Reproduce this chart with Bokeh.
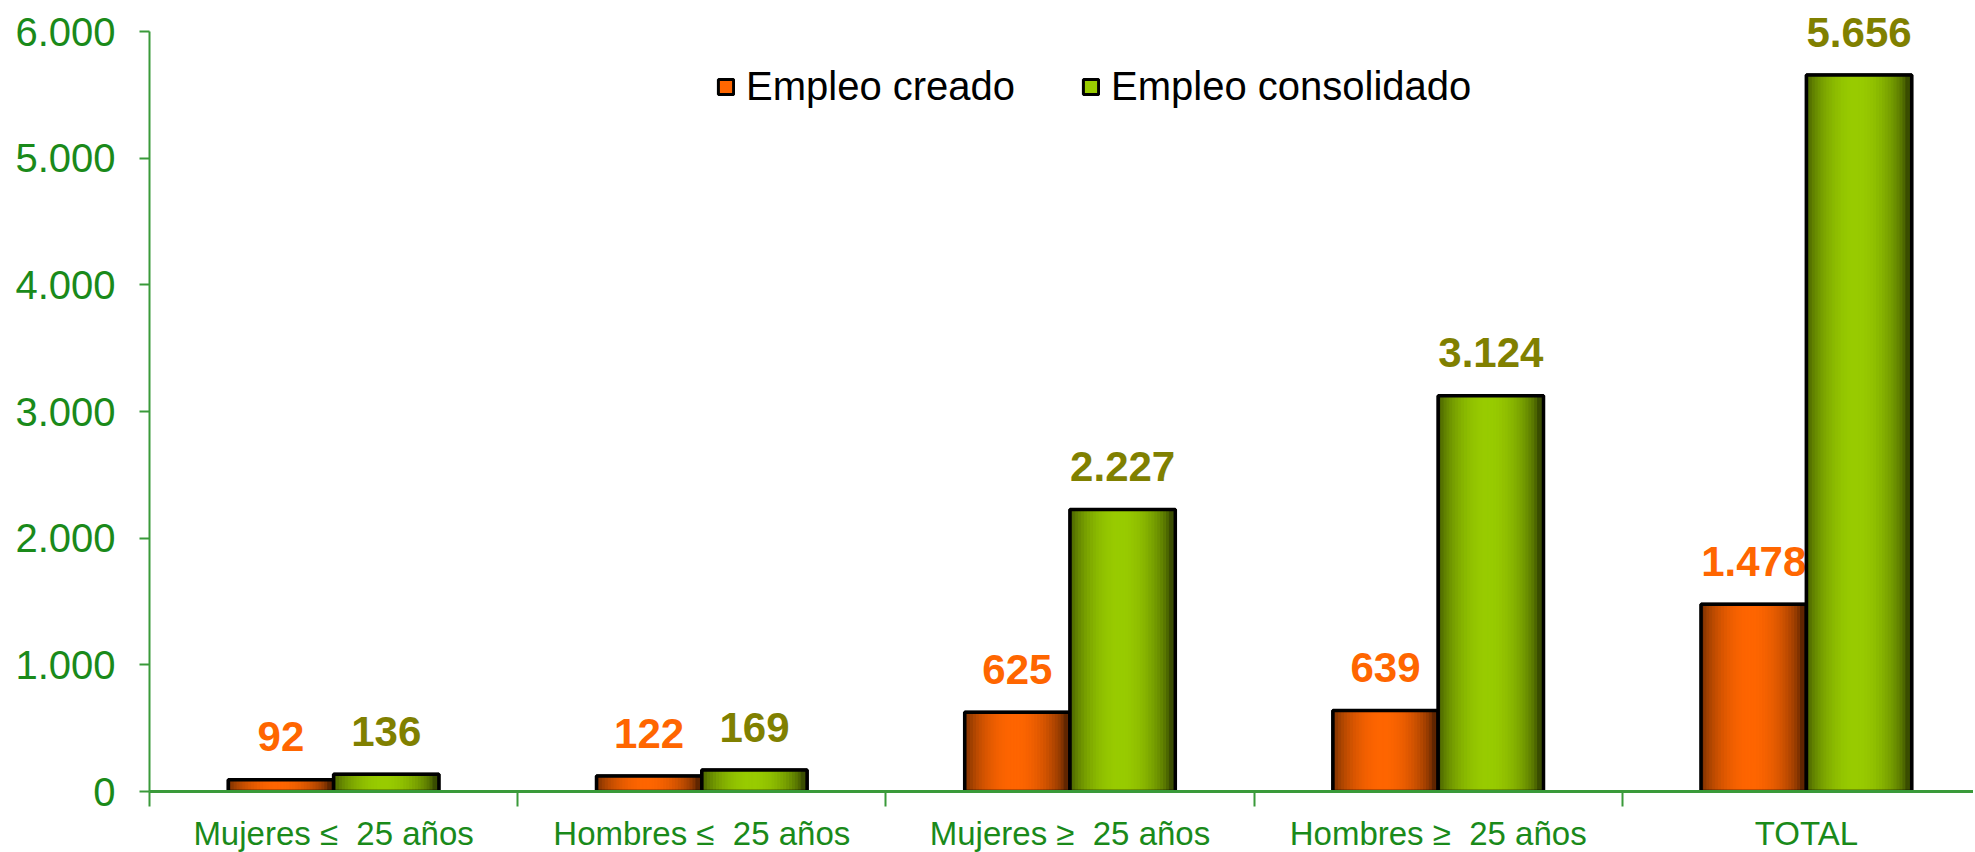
import numpy as np
from bokeh.plotting import figure
from bokeh.models import Range1d, FixedTicker, ColumnDataSource, Legend, LegendItem
from bokeh.core.properties import value
from bokeh.embed import file_html
from bokeh.resources import INLINE

# ---------------- data ----------------
NB = "\u00a0"
categories = [f"Mujeres \u2264{NB} 25 a\u00f1os", f"Hombres \u2264{NB} 25 a\u00f1os",
              f"Mujeres \u2265{NB} 25 a\u00f1os", f"Hombres \u2265{NB} 25 a\u00f1os", "TOTAL"]
empleo_creado = [92, 122, 625, 639, 1478]
empleo_consolidado = [136, 169, 2227, 3124, 5656]
series_names = ["Empleo creado", "Empleo consolidado"]
y_ticks = [0, 1000, 2000, 3000, 4000, 5000, 6000]
y_tick_labels = ["0", "1.000", "2.000", "3.000", "4.000", "5.000", "6.000"]
y_axis_max = 6000

# ---------------- style ----------------
FONT = "Liberation Sans"
AXIS_GREEN = "#3a9a3a"
LABEL_GREEN = "#1a8a1a"
base_colors = [(255, 102, 0), (153, 204, 0)]
label_colors = ["#FF6600", "#808000"]
BAR_W = 0.286
N_STRIPS = 36
FRAME_W = 1824
CAT_PX = 368.2
PX_PER_UNIT = 760 / 6000.0   # vertical scale
TOP_PAD_PX = 31               # room above the 6.000 tick
FRAME_H = 760 + TOP_PAD_PX

def fmt(v):
    return f"{v:,}".replace(",", ".")

def shade(rgb, t):
    # dark edges, bright centre (slightly darker at right edge)
    f = 0.38 + 0.62 * np.sin(np.pi * min(max(t * 1.05, 0), 1)) ** 0.6
    r, g, b = (int(min(255, c * f)) for c in rgb)
    return f"#{r:02x}{g:02x}{b:02x}"

n = len(categories)
centers = [i + 0.5 for i in range(n)]

p = figure(frame_width=FRAME_W, frame_height=FRAME_H,
           x_range=Range1d(0, FRAME_W / CAT_PX),
           y_range=Range1d(0, y_axis_max + TOP_PAD_PX / PX_PER_UNIT),
           output_backend="svg", toolbar_location=None,
           min_border_left=149, min_border_top=0, min_border_bottom=58,
           min_border_right=0)
p.outline_line_color = None
p.xgrid.visible = False
p.ygrid.visible = False
p.background_fill_color = "white"
p.border_fill_color = "white"

legend_items = []
series = [empleo_creado, empleo_consolidado]
offsets = [-BAR_W / 2, BAR_W / 2]
for s, vals in enumerate(series):
    xs = [c + offsets[s] for c in centers]
    src = ColumnDataSource(dict(x=xs, top=vals, label=[fmt(v) for v in vals]))
    base = p.vbar(x="x", top="top", bottom=0, width=BAR_W, source=src,
                  fill_color="#%02x%02x%02x" % base_colors[s],
                  line_color="black", line_width=3)
    legend_items.append(LegendItem(label=series_names[s], renderers=[base]))
    # gradient strips
    sx, st, sc = [], [], []
    sw = BAR_W / N_STRIPS
    for x0, v in zip(xs, vals):
        left = x0 - BAR_W / 2
        for k in range(N_STRIPS):
            t = (k + 0.5) / N_STRIPS
            sx.append(left + (k + 0.5) * sw)
            st.append(v)
            sc.append(shade(base_colors[s], t))
    p.vbar(x="x", top="top", bottom=0, width=sw,
           source=ColumnDataSource(dict(x=sx, top=st, color=sc)),
           fill_color="color", line_color="color", line_width=1)
    p.vbar(x="x", top="top", bottom=0, width=BAR_W, source=src,
           fill_alpha=0, line_color="black", line_width=3.5)
    p.text(x="x", y="top", text="label", source=src,
           text_font=value(FONT), text_font_style="bold",
           text_font_size="42px", text_color=label_colors[s],
           text_align="center", text_baseline="alphabetic", y_offset=-43)

legend = Legend(items=legend_items, orientation="horizontal",
                location=(567, 682), margin=0, padding=0, spacing=66,
                label_text_font=FONT, label_text_font_size="40px",
                label_text_color="black", label_standoff=11,
                glyph_width=19, glyph_height=19,
                border_line_color=None, background_fill_alpha=0)
p.add_layout(legend)

# y axis
p.yaxis.ticker = FixedTicker(ticks=y_ticks)
p.yaxis.bounds = (0, y_axis_max)
p.yaxis.major_label_overrides = {t: l for t, l in zip(y_ticks, y_tick_labels)}
p.yaxis.major_label_text_font = FONT
p.yaxis.major_label_text_font_size = "40px"
p.yaxis.major_label_text_color = LABEL_GREEN
p.yaxis.axis_line_color = AXIS_GREEN
p.yaxis.axis_line_width = 2
p.yaxis.major_tick_line_color = AXIS_GREEN
p.yaxis.major_tick_line_width = 2
p.yaxis.major_tick_out = 10
p.yaxis.major_tick_in = 0
p.yaxis.minor_tick_line_color = None
p.yaxis.major_label_standoff = 24

# x axis
p.xaxis.ticker = FixedTicker(ticks=centers, minor_ticks=list(range(n + 1)))
p.xaxis.major_label_overrides = {c: l for c, l in zip(centers, categories)}
p.xaxis.major_label_text_font = FONT
p.xaxis.major_label_text_font_size = "33px"
p.xaxis.major_label_text_color = LABEL_GREEN
p.xaxis.axis_line_color = AXIS_GREEN
p.xaxis.axis_line_width = 3
p.xaxis.major_tick_line_color = None
p.xaxis.minor_tick_line_color = AXIS_GREEN
p.xaxis.minor_tick_line_width = 2
p.xaxis.minor_tick_out = 15
p.xaxis.minor_tick_in = 0
p.xaxis.major_label_standoff = 8

open("out.html", "w").write(file_html(p, INLINE))
